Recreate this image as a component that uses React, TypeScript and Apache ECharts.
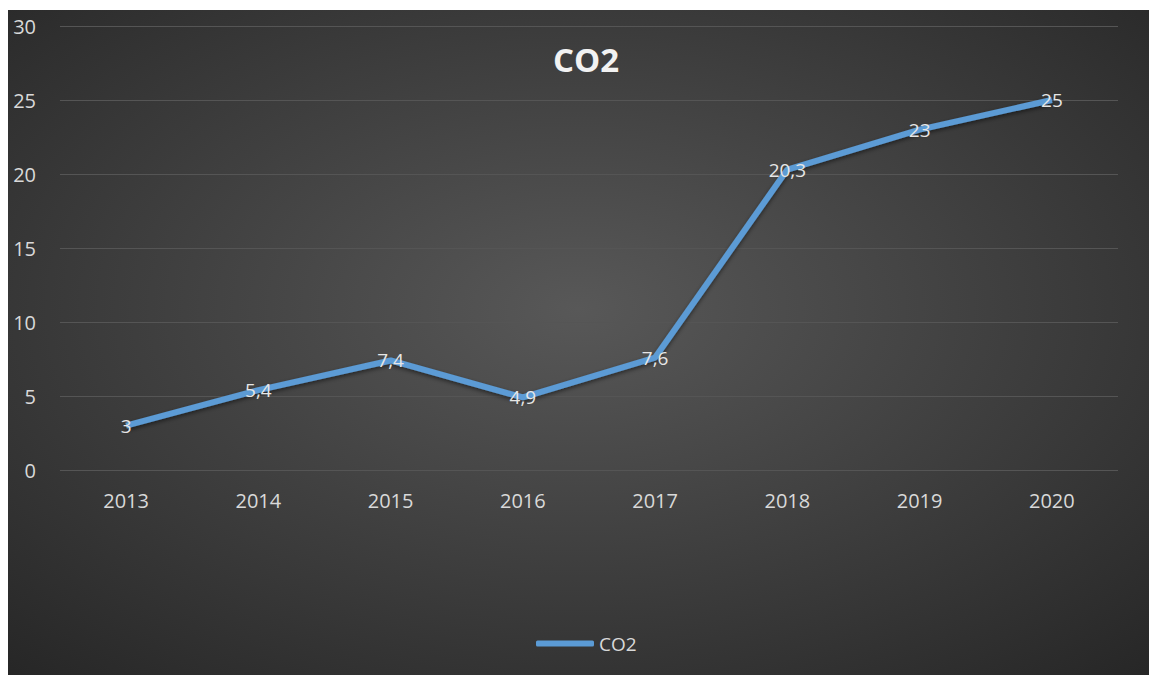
import React, { useEffect, useRef } from "react";
import * as echarts from "echarts";

const categories = ["2013", "2014", "2015", "2016", "2017", "2018", "2019", "2020"];
const co2Values = [3, 5.4, 7.4, 4.9, 7.6, 20.3, 23, 25];
const seriesName = "CO2";
const titleText = "CO2";

export default function App() {
  const ref = useRef<HTMLDivElement>(null);
  useEffect(() => {
    if (!ref.current) return;
    const chart = echarts.init(ref.current, undefined, { renderer: "svg" });
    const font = "Open Sans";
    chart.setOption({
      animation: false,
      backgroundColor: new echarts.graphic.RadialGradient(0.5, 0.45, 0.75, [
        { offset: 0, color: "#585858" },
        { offset: 1, color: "#262626" },
      ]),
      title: {
        text: titleText,
        left: 540,
        top: 28,
        textStyle: { color: "#f2f2f2", fontSize: 33, fontWeight: "bold", fontFamily: font },
      },
      legend: {
        bottom: 17,
        left: 523,
        data: [{ name: seriesName, icon: "roundRect" }],
        itemWidth: 58,
        itemHeight: 6,
        itemGap: 4,
        textStyle: { color: "#d9d9d9", fontSize: 19, fontFamily: font },
      },
      grid: { left: 52, right: 31, top: 16, bottom: 205, containLabel: false },
      xAxis: {
        type: "category",
        data: categories,
        boundaryGap: true,
        axisLine: { show: false },
        axisTick: { show: false },
        axisLabel: { color: "#d9d9d9", fontSize: 20, fontFamily: font, margin: 20 },
      },
      yAxis: {
        type: "value",
        min: 0,
        max: 30,
        interval: 5,
        axisLine: { show: false },
        axisTick: { show: false },
        axisLabel: { color: "#d9d9d9", fontSize: 20, fontFamily: font, margin: 24 },
        splitLine: { lineStyle: { color: "#555555", width: 1 } },
      },
      series: [
        {
          name: seriesName,
          type: "line",
          data: co2Values,
          symbol: "circle",
          symbolSize: 1,
          showSymbol: true,
          lineStyle: {
            color: "#5b9bd5",
            width: 6,
            shadowColor: "rgba(0,0,0,0.5)",
            shadowBlur: 4,
            shadowOffsetY: 2,
          },
          itemStyle: { color: "#5b9bd5" },
          label: {
            show: true,
            position: "inside",
            color: "#e6e6e6",
            fontSize: 19,
            fontFamily: font,
            formatter: (p: any) => String(p.value).replace(".", ","),
          },
        },
      ],
    });
    return () => chart.dispose();
  }, []);
  return (
    <div
      ref={ref}
      style={{ position: "absolute", left: 8, top: 10, width: 1141, height: 665 }}
    />
  );
}
